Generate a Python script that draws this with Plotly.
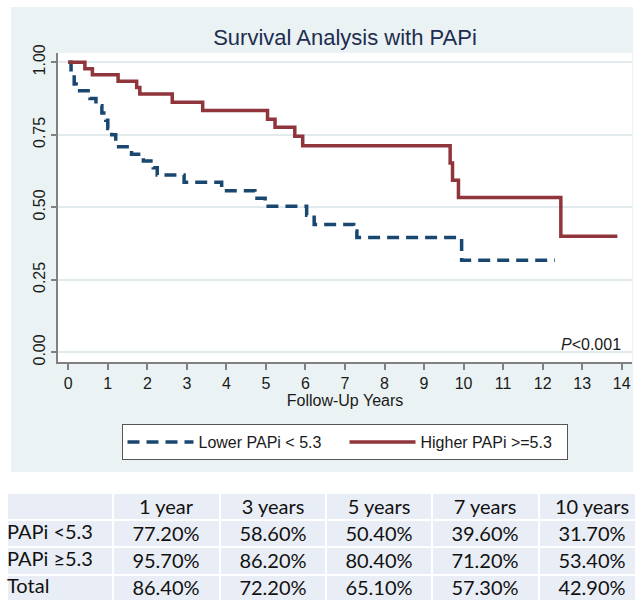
import plotly.graph_objects as go

# ---------------- data ----------------
lower_t = [0, 0.07, 0.15, 0.2, 0.55, 0.7, 0.85, 0.95, 1.0, 1.1, 1.2, 1.6, 1.9, 2.15, 2.25,
           2.93, 3.88, 4.72, 4.98, 6.03, 6.22, 7.22, 7.3, 9.95, 12.31]
lower_s = [1.0, 0.955, 0.925, 0.902, 0.875, 0.85, 0.825, 0.80, 0.772, 0.75, 0.709, 0.683, 0.66,
           0.636, 0.611, 0.586, 0.557, 0.531, 0.504, 0.473, 0.441, 0.418, 0.396, 0.317, 0.317]

higher_t = [0, 0.42, 0.61, 1.26, 1.73, 1.81, 2.63, 3.40, 5.04, 5.23, 5.73, 5.93, 9.66, 9.72,
            9.87, 12.46, 13.89]
higher_s = [1.0, 0.978, 0.957, 0.935, 0.913, 0.891, 0.862, 0.834, 0.804, 0.776, 0.745, 0.712,
            0.653, 0.593, 0.534, 0.40, 0.40]

x_ticks = list(range(0, 15))
y_ticks = [0.0, 0.25, 0.5, 0.75, 1.0]

table_header = ["1 year", "3 years", "5 years", "7 years", "10 years"]
table_rows = ["PAPi <5.3", "PAPi ≥5.3", "Total"]
row_lower = [77.2, 58.6, 50.4, 39.6, 31.7]
row_higher = [95.7, 86.2, 80.4, 71.2, 53.4]
row_total = [86.4, 72.2, 65.1, 57.3, 42.9]

# ---------------- figure ----------------
W, H = 635, 600
NAVY = "#1A476F"
MAROON = "#90353B"
BG = "#EAF2F3"
CELL = "#E9EDF5"
FONT = "Liberation Sans, Arial, sans-serif"
TFONT = dict(family="Lato, Open Sans, sans-serif", size=20, color="#111111")


def px_x(p):
    return p / W


def px_y(p):
    return 1 - p / H


fig = go.Figure()

fig.add_trace(go.Scatter(
    x=lower_t, y=lower_s, mode="lines", line_shape="hv",
    name="Lower PAPi < 5.3",
    line=dict(color=NAVY, width=3.5, dash="12px,7px"),
))
fig.add_trace(go.Scatter(
    x=higher_t, y=higher_s, mode="lines", line_shape="hv",
    name="Higher PAPi >=5.3",
    line=dict(color=MAROON, width=3.5),
))

# ---- table as a heatmap grid on its own axes ----
body = [row_lower, row_higher, row_total]
n_cols = len(table_header) + 1
n_rows = len(table_rows) + 1
cell_text = [[""] + table_header]
for vals in body:
    cell_text.append([""] + [f"{v:.2f}%" for v in vals])
z = [[1] * n_cols for _ in range(n_rows)]

fig.add_trace(go.Heatmap(
    z=z, x=list(range(n_cols)), y=list(range(n_rows)),
    text=cell_text, texttemplate="%{text}", textfont=TFONT,
    colorscale=[[0, CELL], [1, CELL]], showscale=False,
    xgap=2, ygap=2, hoverinfo="skip",
    xaxis="x2", yaxis="y2",
))
fig.add_trace(go.Scatter(
    x=[-0.5] * len(table_rows), y=list(range(1, n_rows)), text=table_rows,
    mode="text", textposition="middle right", textfont=TFONT,
    showlegend=False, hoverinfo="skip", cliponaxis=False,
    xaxis="x2", yaxis="y2",
))

COLW = 106.3
ROWH = 27.2
hidden = dict(showgrid=False, zeroline=False, showline=False, showticklabels=False,
              ticks="", fixedrange=True)

fig.update_layout(
    width=W, height=H,
    margin=dict(l=0, r=0, t=0, b=0, autoexpand=False),
    paper_bgcolor="white",
    plot_bgcolor="white",
    font=dict(family=FONT, size=16, color="#1a1a1a"),
    title=dict(text="Survival Analysis with PAPi", x=px_x(345), xref="paper", xanchor="center",
               y=px_y(37), yref="paper", yanchor="middle",
               font=dict(family=FONT, size=22, color="#1E2D50")),
    xaxis=dict(domain=[px_x(58), px_x(632)], range=[-0.26, 14.26],
               tickvals=x_ticks, showgrid=False, zeroline=False,
               showline=True, linecolor="#808080", linewidth=1.5,
               ticks="outside", ticklen=6, tickwidth=1.5, tickcolor="#808080",
               tickfont=dict(size=16, color="#1a1a1a"),
               title=dict(text="Follow-Up Years", standoff=2, font=dict(size=16, color="#1a1a1a"))),
    yaxis=dict(domain=[px_y(362), px_y(53)], range=[-0.0334, 1.032],
               tickvals=y_ticks, tickformat=".2f", tickangle=-90,
               showgrid=True, gridcolor="#E1EBEE", gridwidth=2, zeroline=False,
               showline=True, linecolor="#808080", linewidth=1.5,
               ticks="outside", ticklen=5, tickwidth=1.5, tickcolor="#808080",
               tickfont=dict(size=16, color="#1a1a1a")),
    xaxis2=dict(domain=[px_x(7), 1], anchor="y2",
                range=[-0.5, -0.5 + (W - 7) / COLW], **hidden),
    yaxis2=dict(domain=[0, px_y(493)], anchor="x2",
                range=[-0.5 + (H - 493) / ROWH, -0.5], **hidden),
    legend=dict(orientation="h", x=px_x(344.5), xanchor="center", xref="paper",
                y=px_y(424), yanchor="top", yref="paper",
                bgcolor="white", bordercolor="#555555", borderwidth=1,
                itemwidth=66, entrywidth=141, entrywidthmode="pixels",
                font=dict(size=16, color="#1a1a1a")),
    shapes=[
        dict(type="rect", xref="paper", yref="paper", layer="below",
             x0=px_x(11), x1=px_x(633), y0=px_y(472), y1=px_y(7),
             fillcolor=BG, line=dict(width=0)),
        dict(type="rect", xref="paper", yref="paper", layer="below",
             x0=px_x(58), x1=px_x(632), y0=px_y(362), y1=px_y(53),
             fillcolor="white", line=dict(width=0)),
    ],
    annotations=[
        dict(text="<i>P</i><0.001", xref="paper", yref="paper", x=px_x(623), y=px_y(344),
             xanchor="right", yanchor="middle", showarrow=False,
             font=dict(family=FONT, size=16, color="#1a1a1a")),
    ],
)

fig.write_html("out.html")
